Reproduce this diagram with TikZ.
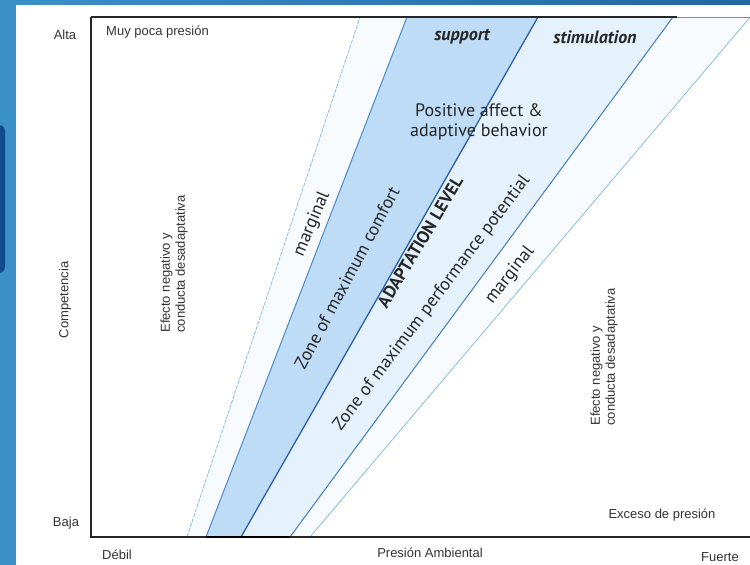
\documentclass[tikz,border=0pt]{standalone}
\usepackage{fontspec}
\setmainfont{Liberation Sans}
\newfontfamily\bandfont{PT Sans}
\usetikzlibrary{positioning}
\definecolor{slideblue}{HTML}{3C90C8}
\definecolor{slidetop}{HTML}{23679F}
\definecolor{slidenavy}{HTML}{0E4C8F}
\definecolor{supportfill}{HTML}{BEDCF5}
\definecolor{stimfill}{HTML}{E5F2FC}
\definecolor{margfill}{HTML}{F7FBFE}
\definecolor{lightline}{HTML}{8DBEE0}
\definecolor{midline}{HTML}{4A8ACB}
\definecolor{darkline}{HTML}{2C5FA8}
\tikzset{
  axislabel/.style={font=\fontsize{13}{15}\selectfont, text=black!80, inner sep=0pt},
  bandlabel/.style={font=\bandfont\fontsize{18}{20}\selectfont, text=black!85, inner sep=0pt},
  axisline/.style={draw=black!85, line width=1.6pt},
  margline/.style={draw=lightline, line width=0.8pt},
  edgeline/.style={draw=midline, line width=1pt},
}

\begin{document}
\begin{tikzpicture}[x=1pt,y=-1pt]
  \useasboundingbox (0,0) rectangle (750,565);
  % slide background
  \fill[white] (0,0) rectangle (750,565);
  \fill[slideblue] (0,0) rectangle (16,565);
  \shade[left color=slideblue, right color=slidetop] (0,0) rectangle (750,4);
  \fill[slidenavy, rounded corners=6pt] (-10,125) rectangle (5,273);

  % band edges
  \coordinate (mlb) at (187,537);  \coordinate (mlt) at (360,17);
  \coordinate (cfb) at (206,537);  \coordinate (cft) at (407,17);
  \coordinate (alb) at (241,537);  \coordinate (alt) at (538,17);
  \coordinate (pfb) at (290,537);  \coordinate (pft) at (673,17);
  \coordinate (mrb) at (310,537);  \coordinate (mrt) at (752,15);

  \fill[margfill] (mlb) -- (mlt) -- (cft) -- (cfb) -- cycle;
  \fill[supportfill] (cfb) -- (cft) -- (alt) -- (alb) -- cycle;
  \fill[stimfill] (alb) -- (alt) -- (pft) -- (pfb) -- cycle;
  \fill[margfill] (pfb) -- (pft) -- (mrt) -- (mrb) -- cycle;

  \draw[margline, dash pattern=on 4pt off 1.2pt] (mlb) -- (mlt);
  \draw[edgeline] (cfb) -- (cft);
  \draw[draw=darkline, line width=1.3pt] (alb) -- (alt);
  \draw[edgeline, draw=midline!90!black] (pfb) -- (pft);
  \draw[margline] (mrb) -- (mrt);

  % axes
  \coordinate (origin) at (91,537);
  \coordinate (ytop) at (91,17);
  \coordinate (xend) at (750,537);
  \coordinate (topmid) at (677,17);
  \coordinate (topend) at (750,17);
  \draw[axisline] (ytop) -- (origin) -- (xend);
  \draw[axisline] (ytop) -- (topmid);
  \draw[draw=black!45, line width=0.8pt] (topmid) -- (topend);
  \draw[draw=black, line width=2.2pt] (cfb) -- (pfb);

  % axis texts
  \node[axislabel] (alta) at (65,35) {Alta};
  \node[axislabel] (baja) at (66,523) {Baja};
  \node[axislabel, rotate=90] (comp) at (65,300) {Competencia};
  \node[axislabel] (debil) at (117,555) {Débil};
  \node[axislabel] (presion) at (430,553) {Presión Ambiental};
  \node[axislabel] (fuerte) at (720,557) {Fuerte};
  \node[axislabel, anchor=west] (poca) at (106,32) {Muy poca presión};
  \node[axislabel] (exceso) at (662,515) {Exceso de presión};
  \node[axislabel, rotate=90, align=left] (efectoL) at (174,264)
    {Efecto negativo y\\conducta desadaptativa};
  \node[axislabel, rotate=90, align=left] (efectoR) at (604,357)
    {Efecto negativo y\\conducta desadaptativa};

  % band texts
  \node[bandlabel, font=\bandfont\bfseries\itshape\fontsize{18}{20}\selectfont] (support) at (462,37) {support};
  \node[bandlabel, font=\bandfont\bfseries\itshape\fontsize{18}{20}\selectfont] (stim) at (595,37) {stimulation};
  \node[bandlabel, align=center] (affect) at (479,122) {Positive affect \&\\adaptive behavior};
  \node[bandlabel, rotate=67] (margL) at (312,224) {marginal};
  \node[bandlabel, rotate=62] (comfort) at (347,278) {Zone of maximum comfort};
  \node[bandlabel, rotate=59, font=\bandfont\bfseries\fontsize{17.5}{19}\selectfont] (adapt) at (420,242) {ADAPTATION LEVEL};
  \node[bandlabel, rotate=53] (perf) at (432,303) {Zone of maximum performance potential};
  \node[bandlabel, rotate=52] (margR) at (510,275) {marginal};
\end{tikzpicture}
\end{document}
